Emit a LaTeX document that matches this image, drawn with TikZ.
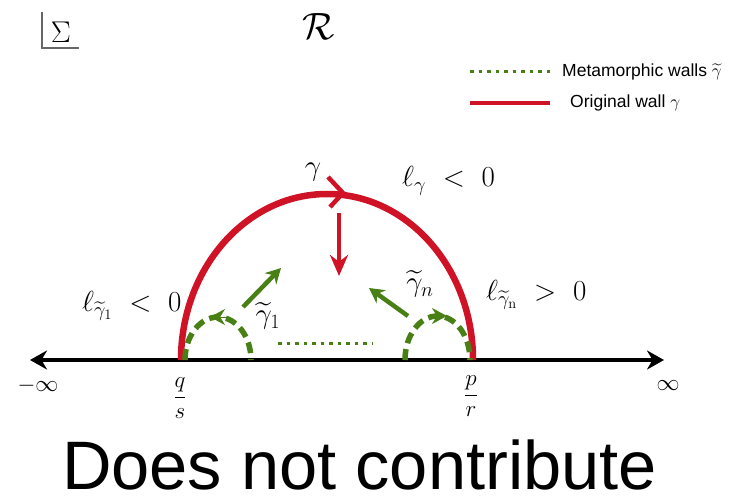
\RequirePackage{fix-cm}
\documentclass[tikz,border=0pt]{standalone}
\usepackage{amsmath,amssymb}
\usepackage{fontspec}
\newfontfamily\arialf{Liberation Sans}
\usetikzlibrary{arrows.meta}
\definecolor{wallred}{RGB}{208,18,38}
\definecolor{wallgreen}{RGB}{72,128,22}
\tikzset{
  redwall/.style={draw=wallred, line width=6.5pt},
  greenwall/.style={draw=wallgreen, line width=5.5pt, dash pattern=on 11pt off 6pt},
  greendots/.style={draw=wallgreen, line width=3pt, dash pattern=on 3.5pt off 5pt},
  greenarrow/.style={draw=wallgreen, fill=wallgreen, line width=4.5pt, -{Stealth[length=15pt,width=16pt]}},
  redarrow/.style={draw=wallred, fill=wallred, line width=4.5pt, -{Stealth[length=21pt,width=18pt]}},
  axisline/.style={draw=black, line width=4pt, {Stealth[length=17pt,width=19pt]}-{Stealth[length=17pt,width=19pt]}},
  lbl/.style={inner sep=0pt, font=\fontsize{29}{33}\selectfont},
  smalllbl/.style={inner sep=0pt, font=\fontsize{23}{27}\selectfont},
  legendtxt/.style={inner sep=0pt, anchor=west, font=\arialf\fontsize{17.5}{20}\selectfont},
}
\begin{document}
\begin{tikzpicture}[x=1pt,y=-1pt]
\useasboundingbox (0,0) rectangle (738,497);
% corner symbols
\draw[gray!80!black, line width=1.8pt] (42,12) -- (42,48) -- (79,48);
\node[inner sep=0pt, font=\fontsize{30}{34}\selectfont] (sigma) at (61,32) {$\Sigma$};
\node[inner sep=0pt, font=\fontsize{38}{42}\selectfont] (RR) at (319,27) {$\mathcal{R}$};
% legend
\coordinate (lg1a) at (470,72); \coordinate (lg1b) at (550,72);
\coordinate (lg2a) at (470,103); \coordinate (lg2b) at (550,103);
\draw[greendots] (lg1a) -- (lg1b);
\draw[draw=wallred, line width=3.5pt] (lg2a) -- (lg2b);
\node[legendtxt] (leg1) at (562,72) {Metamorphic walls $\widetilde{\gamma}$};
\node[legendtxt] (leg2) at (570,103) {Original wall $\gamma$};
% axis
\coordinate (axL) at (30,360); \coordinate (axR) at (664,360);
\draw[axisline] (axL) -- (axR);
% big red wall
\coordinate (qs) at (181,360); \coordinate (pr) at (473,360);
\draw[redwall] (qs) arc[start angle=180, end angle=360, x radius=146, y radius=166];
\coordinate (chA) at (328,177); \coordinate (chB) at (343,193); \coordinate (chC) at (330,207);
\draw[draw=wallred, line width=4.5pt, line join=miter] (chA) -- (chB) -- (chC);
\coordinate (dA) at (339,213); \coordinate (dB) at (339,276);
\draw[redarrow] (dA) -- (dB);
% small green walls
\coordinate (g1L) at (185,360); \coordinate (g1R) at (251,360);
\coordinate (gnL) at (405,360); \coordinate (gnR) at (470,360);
\draw[greenwall] (g1L) arc[start angle=180, end angle=360, x radius=33, y radius=43];
\draw[greenwall] (gnL) arc[start angle=180, end angle=360, x radius=32.5, y radius=44];
\coordinate (t1a) at (228,317); \coordinate (t1b) at (210,317);
\draw[draw=wallgreen, fill=wallgreen, line width=1pt, -{Stealth[length=15pt,width=16pt]}] (t1a) -- (t1b);
\coordinate (tna) at (429,316); \coordinate (tnb) at (447,316);
\draw[draw=wallgreen, fill=wallgreen, line width=1pt, -{Stealth[length=15pt,width=16pt]}] (tna) -- (tnb);
% green arrows
\coordinate (a1a) at (243,307); \coordinate (a1b) at (281,268);
\draw[greenarrow] (a1a) -- (a1b);
\coordinate (ana) at (408,316); \coordinate (anb) at (369,288);
\draw[greenarrow] (ana) -- (anb);
% dotted middle
\coordinate (mdA) at (278,343); \coordinate (mdB) at (372,343);
\draw[greendots] (mdA) -- (mdB);
% labels
\node[lbl] (gam) at (313,172) {$\gamma$};
\node[lbl, anchor=west] (lgam) at (402,181) {$\ell_{\gamma}\ <\ 0$};
\node[lbl, anchor=west] (lg1) at (82,306) {$\ell_{\widetilde{\gamma}_1}\ <\ 0$};
\node[lbl] (tg1) at (268,316) {$\widetilde{\gamma}_1$};
\node[lbl] (tgn) at (420,284) {$\widetilde{\gamma}_n$};
\node[lbl, anchor=west] (lgn) at (486,295) {$\ell_{\widetilde{\gamma}_{\mathrm{n}}}\ >\ 0$};
\node[smalllbl] (minf) at (38,386) {$-\infty$};
\node[smalllbl] (pinf) at (668,386) {$\infty$};
\node[smalllbl] (fqs) at (180,398) {$\dfrac{q}{s}$};
\node[smalllbl] (fpr) at (471,396) {$\dfrac{p}{r}$};
\node[inner sep=0pt, anchor=base, font=\arialf\fontsize{68.6}{70}\selectfont] (dnc) at (359.5,489) {Does not contribute};
\end{tikzpicture}
\end{document}
